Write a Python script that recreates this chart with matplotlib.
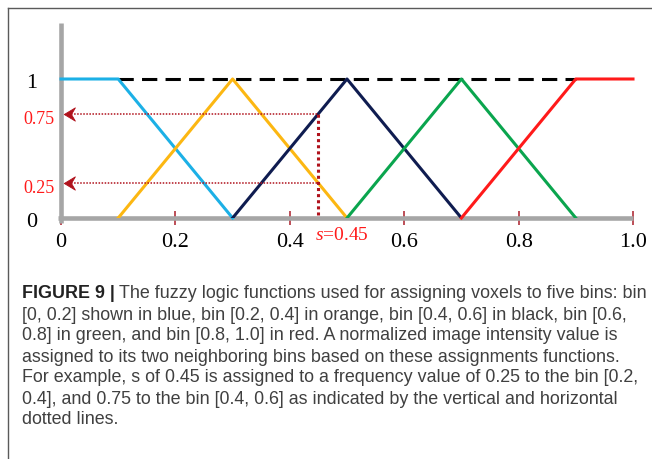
import matplotlib
matplotlib.use("Agg")
import matplotlib.pyplot as plt
from matplotlib.lines import Line2D
from matplotlib.path import Path

plt.rcParams["mathtext.fontset"] = "custom"
plt.rcParams["mathtext.it"] = "Liberation Serif:italic"
plt.rcParams["mathtext.rm"] = "Liberation Serif"

# membership functions of the five bins (x breakpoints, y values)
blue_x = [0.0, 0.1, 0.3]
blue_y = [1, 1, 0]
orange_x = [0.1, 0.3, 0.5]
orange_y = [0, 1, 0]
navy_x = [0.3, 0.5, 0.7]
navy_y = [0, 1, 0]
green_x = [0.5, 0.7, 0.9]
green_y = [0, 1, 0]
red_x = [0.7, 0.9, 1.0]
red_y = [0, 1, 1]
top_x = [0.1, 0.9]   # dashed line at 1

s_value = 0.45
s_freqs = [0.25, 0.75]

x_ticks = [0, 0.2, 0.4, 0.6, 0.8, 1.0]
x_tick_labels = ["0", "0.2", "0.4", "0.6", "0.8", "1.0"]

caption = [
    "The fuzzy logic functions used for assigning voxels to five bins: bin",
    "[0, 0.2] shown in blue, bin [0.2, 0.4] in orange, bin [0.4, 0.6] in black, bin [0.6,",
    "0.8] in green, and bin [0.8, 1.0] in red. A normalized image intensity value is",
    "assigned to its two neighboring bins based on these assignments functions.",
    "For example, s of 0.45 is assigned to a frequency value of 0.25 to the bin [0.2,",
    "0.4], and 0.75 to the bin [0.4, 0.6] as indicated by the vertical and horizontal",
    "dotted lines.",
]

W, H = 652, 459
fig = plt.figure(figsize=(W / 100, H / 100), dpi=100)

# axes placed so x=0 -> px 61, x=1 -> px 633, y=0 -> px 218, y=1 -> px 79
ax = fig.add_axes([61 / W, (H - 218) / H, 572 / W, 1.4 * 139 / H])
ax.set_xlim(0, 1)
ax.set_ylim(0, 1.4)
for sp in ax.spines.values():
    sp.set_visible(False)
ax.set_yticks([])

serif = "Liberation Serif"
dark_red = "#b0121c"

# gray axis lines
ax.plot([-0.005, 1.0], [0, 0], color="#a6a6a6", lw=3.3, clip_on=False, zorder=2, solid_capstyle="butt")
ax.plot([0, 0], [-0.035, 1.4], color="#a6a6a6", lw=3.3, clip_on=False, zorder=2, solid_capstyle="butt")

# red tick marks
ax.set_xticks(x_ticks)
ax.set_xticklabels([])
ax.tick_params(axis="x", direction="inout", length=10, width=1.3, color="#b8404a")

for i, lab in enumerate(x_tick_labels):
    ax.text(x_ticks[i], -0.208, lab, ha="center", va="baseline", fontsize=16, family=serif)

# y labels
ax.text(-0.052, 1 - 0.065, "1", ha="center", va="baseline", fontsize=16, family=serif)
ax.text(-0.052, 0 - 0.065, "0", ha="center", va="baseline", fontsize=16, family=serif)
for f in s_freqs:
    ax.text(-0.011, f - 0.072, "%g" % f, ha="right", va="baseline", fontsize=13,
            family=serif, color="#ff1a1a")

lw = 2.2
ax.plot(top_x, [1, 1], color="black", lw=lw, dashes=(5, 2.7), zorder=3)
ax.plot(blue_x, blue_y, color="#1cb0e6", lw=lw, zorder=3, clip_on=False)
ax.plot(orange_x, orange_y, color="#fcb712", lw=lw, zorder=3)
ax.plot(navy_x, navy_y, color="#0f1c50", lw=lw, zorder=3)
ax.plot(green_x, green_y, color="#0aa54e", lw=lw, zorder=3)
ax.plot(red_x, red_y, color="#ff1a1a", lw=lw, zorder=3, clip_on=False)

# dotted guides for s = 0.45
ax.plot([s_value, s_value], [0.02, max(s_freqs)], color=dark_red, lw=2.2,
        linestyle=(0, (1, 1)), zorder=4)
head = Path([(0.25, 0), (1.25, 0.6), (0.9, 0), (1.25, -0.6), (0.25, 0)],
            [Path.MOVETO, Path.LINETO, Path.LINETO, Path.LINETO, Path.CLOSEPOLY])
for f in s_freqs:
    ax.plot([0.012, s_value], [f, f], color=dark_red, lw=1.1, linestyle=(0, (1, 1)), zorder=4)
    ax.plot([0], [f], marker=head, markersize=20, color=dark_red, markeredgewidth=0.6,
            clip_on=False, zorder=5)

ax.text(0.444, -0.158, "$s$=0.45", ha="left", va="baseline", fontsize=14,
        family=serif, color="#ff1a1a")

# frame of the figure panel (top and left edges)
fig.add_artist(Line2D([8 / W, 1], [1 - 8 / H, 1 - 8 / H], transform=fig.transFigure,
                      color="#5a5a5a", lw=1.0))
fig.add_artist(Line2D([8 / W, 8 / W], [0, 1 - 8 / H], transform=fig.transFigure,
                      color="#5a5a5a", lw=1.0))

# caption
cap_size = 12.9
cap_color = "#404040"
x0 = 22 / W
line_y = [292, 313, 334, 355, 376, 397, 418]
bold = fig.text(x0, 1 - line_y[0] / H, "FIGURE 9 |", ha="left", va="center_baseline",
                fontsize=cap_size, family="Liberation Sans", weight="bold", color="#222222")
fig.canvas.draw()
bb = bold.get_window_extent(fig.canvas.get_renderer())
for i, line in enumerate(caption):
    xs = x0 if i > 0 else (bb.x1 + 4) / W
    fig.text(xs, 1 - line_y[i] / H, line, ha="left", va="center_baseline",
             fontsize=cap_size, family="Liberation Sans", color=cap_color)

fig.savefig("out.png", dpi=100)
